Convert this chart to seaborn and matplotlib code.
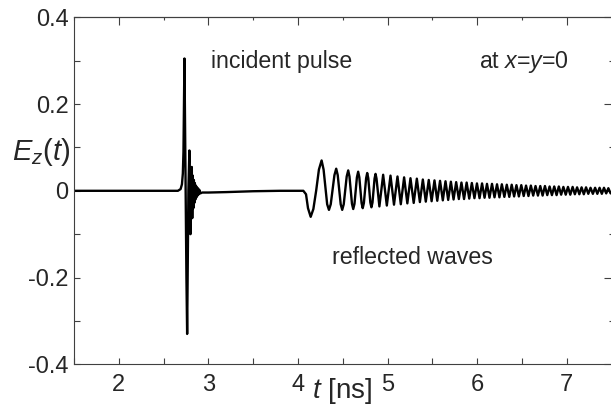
import numpy as np
import pandas as pd
import matplotlib
matplotlib.use("Agg")
import matplotlib.pyplot as plt
from matplotlib.ticker import MultipleLocator
import seaborn as sns

# ================================
# data
# ================================
# incident pulse and its ringing (t in ns, Ez)
pulse_t = [1.50, 2.66, 2.69, 2.705, 2.715, 2.722, 2.727, 2.733, 2.740, 2.748,
           2.755, 2.763, 2.770, 2.777, 2.788, 2.794, 2.800, 2.808, 2.815, 2.820,
           2.826, 2.832, 2.838, 2.843, 2.849, 2.855, 2.861, 2.867, 2.873, 2.879,
           2.886, 2.893, 2.900, 2.910, 2.93, 3.0, 3.2, 3.5, 3.8, 4.06]
pulse_e = [0.0, 0.0, 0.004, 0.015, 0.04, 0.09, 0.18, 0.305, 0.15, 0.0,
           -0.2, -0.33, -0.15, 0.0, 0.093, 0.0, -0.100, 0.0, 0.055, -0.063,
           0.035, -0.040, 0.025, -0.028, 0.018, -0.020, 0.012, -0.015, 0.008, -0.011,
           0.005, -0.008, 0.002, -0.006, -0.004, -0.004, -0.003, -0.001, 0.0, 0.0]

# onset of the reflected waves and shoulders of the first, slow cycles
shoulder_t = [4.09, 4.112, 4.172, 4.203, 4.234, 4.286, 4.326, 4.366,
              4.407, 4.444, 4.477, 4.511, 4.544, 4.575, 4.603, 4.631,
              4.658, 4.685, 4.710, 4.736, 4.761, 4.785, 4.808, 4.832,
              4.855, 4.877]
shoulder_e = [-0.008, -0.040, -0.042, 0.0, 0.049, 0.049, -0.031, -0.031,
              0.036, 0.036, -0.031, -0.031, 0.033, 0.033, -0.030, -0.030,
              0.031, 0.031, -0.028, -0.028, 0.029, 0.029, -0.027, -0.027,
              0.028, 0.028]

# reflected waves: maxima and minima
max_t = [4.264, 4.427, 4.561, 4.672, 4.773, 4.866, 4.951, 5.033, 5.111, 5.185,
         5.256, 5.327, 5.394, 5.460, 5.524, 5.586, 5.647, 5.707, 5.766, 5.825,
         5.883, 5.941, 5.998, 6.055, 6.110, 6.166, 6.222, 6.276, 6.331, 6.386,
         6.439, 6.493, 6.546, 6.600, 6.652, 6.705, 6.757, 6.809, 6.861, 6.912,
         6.963, 7.014, 7.066, 7.116, 7.166, 7.216, 7.266, 7.317, 7.367, 7.416,
         7.465]
max_e = [0.070, 0.051, 0.047, 0.044, 0.041, 0.039, 0.037, 0.035, 0.033, 0.031,
         0.029, 0.028, 0.026, 0.025, 0.024, 0.023, 0.022, 0.021, 0.020, 0.019,
         0.019, 0.018, 0.017, 0.017, 0.016, 0.016, 0.015, 0.015, 0.014, 0.014,
         0.013, 0.013, 0.012, 0.012, 0.011, 0.011, 0.011, 0.010, 0.010, 0.010,
         0.009, 0.009, 0.009, 0.008, 0.008, 0.008, 0.007, 0.007, 0.007, 0.007,
         0.006]
min_t = [4.142, 4.346, 4.494, 4.617, 4.723, 4.820, 4.909, 4.992, 5.072, 5.148,
         5.221, 5.292, 5.361, 5.427, 5.492, 5.555, 5.617, 5.677, 5.737, 5.796,
         5.854, 5.912, 5.970, 6.027, 6.083, 6.138, 6.194, 6.249, 6.304, 6.359,
         6.413, 6.466, 6.520, 6.573, 6.626, 6.679, 6.731, 6.783, 6.835, 6.887,
         6.938, 6.989, 7.040, 7.091, 7.141, 7.191, 7.241, 7.292, 7.342, 7.392,
         7.441, 7.490]
min_e = [-0.060, -0.044, -0.044, -0.042, -0.040, -0.038, -0.036, -0.034, -0.032, -0.031,
         -0.029, -0.028, -0.026, -0.025, -0.024, -0.023, -0.022, -0.021, -0.020, -0.019,
         -0.019, -0.018, -0.017, -0.017, -0.016, -0.016, -0.015, -0.015, -0.014, -0.014,
         -0.013, -0.013, -0.012, -0.012, -0.011, -0.011, -0.011, -0.010, -0.010, -0.010,
         -0.009, -0.009, -0.009, -0.008, -0.008, -0.008, -0.007, -0.007, -0.007, -0.007,
         -0.006, -0.006]

x_ticks = [2, 3, 4, 5, 6, 7]
x_tick_labels = ["2", "3", "4", "5", "6", "7"]
y_ticks = [-0.4, -0.2, 0.0, 0.2, 0.4]
y_tick_labels = ["-0.4", "-0.2", "0", "0.2", "0.4"]

df = pd.concat([
    pd.DataFrame({"t": pulse_t, "Ez": pulse_e}),
    pd.DataFrame({"t": shoulder_t, "Ez": shoulder_e}),
    pd.DataFrame({"t": max_t, "Ez": max_e}),
    pd.DataFrame({"t": min_t, "Ez": min_e}),
]).drop_duplicates("t").sort_values("t")

# ================================
# style
# ================================
sns.set_style("ticks")
plt.rcParams["font.family"] = ["Liberation Sans", "DejaVu Sans"]
plt.rcParams["mathtext.fontset"] = "custom"
plt.rcParams["mathtext.rm"] = "Liberation Sans"
plt.rcParams["mathtext.it"] = "Liberation Sans:italic"

fig = plt.figure(figsize=(6.11, 4.08), dpi=100)
ax = fig.add_axes([74 / 611, 1 - 364.3 / 408, (611.5 - 74) / 611, (364.3 - 17.3) / 408])

sns.lineplot(data=df, x="t", y="Ez", estimator=None, sort=True,
             color="black", lw=1.7, ax=ax)
ax.lines[0].set_solid_joinstyle("round")

ax.set_xlim(1.5, 7.5)
ax.set_ylim(-0.4, 0.4)
ax.set_xticks(x_ticks, x_tick_labels)
ax.set_yticks(y_ticks, y_tick_labels)
ax.xaxis.set_minor_locator(MultipleLocator(0.5))
ax.yaxis.set_minor_locator(MultipleLocator(0.1))
ax.tick_params(which="both", direction="in", length=4, width=0.8,
               color="#404040", labelsize=17)
ax.tick_params(axis="x", pad=7)
ax.tick_params(axis="y", pad=4)
ax.set_xlabel("")
ax.set_ylabel("")
for sp in ax.spines.values():
    sp.set_visible(True)
    sp.set_color("#404040")
    sp.set_linewidth(0.8)

# top / right ticks (no labels)
top = ax.secondary_xaxis("top")
top.set_xticks(x_ticks)
top.xaxis.set_minor_locator(MultipleLocator(0.5))
top.tick_params(which="major", direction="in", length=6, width=0.8,
                color="#404040", labeltop=False)
top.tick_params(which="minor", direction="in", length=2.5, width=0.8,
                color="#404040")
top.spines["top"].set_color("#404040")
top.spines["top"].set_linewidth(0.8)

right = ax.secondary_yaxis("right")
right.set_yticks(y_ticks)
right.yaxis.set_minor_locator(MultipleLocator(0.1))
right.tick_params(which="major", direction="in", length=6, width=0.8,
                  color="#404040", labelright=False)
right.tick_params(which="minor", direction="in", length=2.5, width=0.8,
                  color="#404040")
right.spines["right"].set_color("#404040")
right.spines["right"].set_linewidth(0.8)

# annotations
ax.text(3.03, 0.297, "incident pulse", fontsize=16.7, ha="left", va="center")
ax.text(6.02, 0.297, "at $x$=$y$=0", fontsize=16.7, ha="left", va="center")
ax.text(4.38, -0.153, "reflected waves", fontsize=16.7, ha="left", va="center")

fig.text(12 / 611, 1 - 152 / 408, "$E_z(t)$", fontsize=21, ha="left", va="center")
fig.text(342 / 611, 1 - 391 / 408, "$t$ [ns]", fontsize=20, ha="center", va="center")

fig.savefig("out.png", dpi=100)
